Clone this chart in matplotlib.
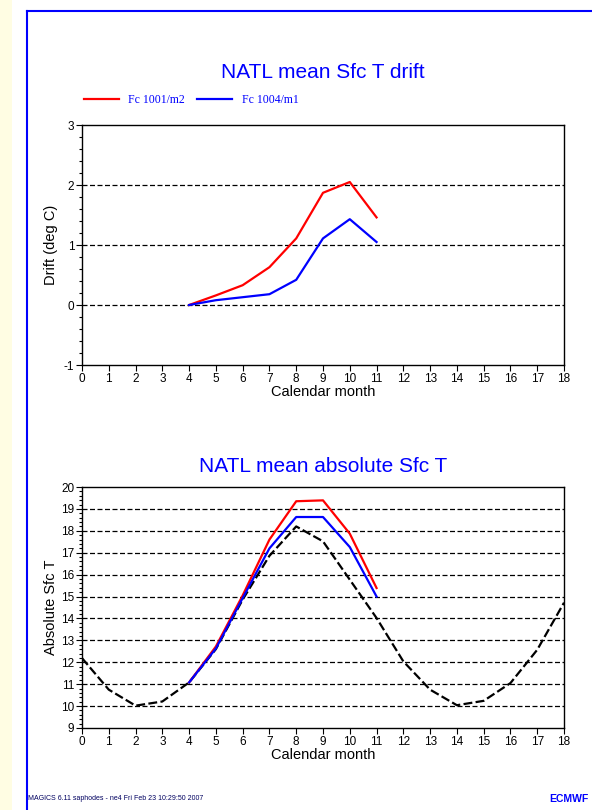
import matplotlib
matplotlib.use('Agg')
import matplotlib.pyplot as plt
from matplotlib.ticker import MultipleLocator
from matplotlib.lines import Line2D
from matplotlib.patches import Rectangle

plt.rcParams['font.family'] = ['Liberation Sans', 'DejaVu Sans']
plt.rcParams['axes.unicode_minus'] = False

# drift data (months 4..11)
drift_months = [4, 5, 6, 7, 8, 9, 10, 11]
drift_m2 = [0.0, 0.16, 0.33, 0.63, 1.11, 1.87, 2.05, 1.46]
drift_m1 = [0.0, 0.08, 0.13, 0.18, 0.42, 1.11, 1.43, 1.05]

# absolute SST
clim_months = list(range(0, 19))
clim = [12.19, 10.75, 10.02, 10.21, 11.08, 12.6, 14.86, 16.86, 18.2, 17.52,
        15.77, 14.02, 12.04, 10.75, 10.04, 10.24, 11.05, 12.57, 14.72]
abs_m2 = [11.08, 12.72, 15.05, 17.6, 19.35, 19.39, 17.87, 15.39]
abs_m1 = [11.08, 12.63, 14.93, 17.2, 18.63, 18.63, 17.26, 15.0]

legend_labels = ['Fc 1001/m2', 'Fc 1004/m1']

W, H = 592, 810
fig = plt.figure(figsize=(W / 100, H / 100), dpi=100)

# page decorations
fig.add_artist(Rectangle((0, 0), 12 / W, 1, transform=fig.transFigure,
                         facecolor='#fffde3', edgecolor='none'))
fig.add_artist(Line2D([26.5 / W, 26.5 / W], [0, 1 - 10.5 / H], transform=fig.transFigure,
                      color='blue', lw=1.5))
fig.add_artist(Line2D([26.5 / W, 1], [1 - 10.5 / H, 1 - 10.5 / H], transform=fig.transFigure,
                      color='blue', lw=1.5))

ax1 = fig.add_axes([82 / W, 1 - 365 / H, (564 - 82) / W, (365 - 125) / H])
ax2 = fig.add_axes([82 / W, 1 - 728 / H, (564 - 82) / W, (728 - 487) / H])


def style(ax, ylo, yhi):
    ax.set_xlim(0, 18)
    ax.set_ylim(ylo, yhi)
    ax.xaxis.set_major_locator(MultipleLocator(1))
    ax.yaxis.set_major_locator(MultipleLocator(1))
    ax.yaxis.set_minor_locator(MultipleLocator(0.2))
    ax.tick_params(which='major', direction='out', length=4, width=0.8, labelsize=8.5, pad=1.5)
    ax.tick_params(which='minor', direction='out', length=2, width=0.8)
    for v in range(int(ylo) + 1, int(yhi)):
        ax.axhline(v, color='black', lw=0.9, ls=(0, (4, 2)), zorder=1)
    ax.set_xlabel('Calendar month', fontsize=10.5, labelpad=0)
    for s in ax.spines.values():
        s.set_linewidth(1.0)


style(ax1, -1, 3)
l1, = ax1.plot(drift_months, drift_m2, color='red', lw=1.6, zorder=3)
l2, = ax1.plot(drift_months, drift_m1, color='blue', lw=1.6, zorder=3)
ax1.set_ylabel('Drift (deg C)', fontsize=10.5)
ax1.yaxis.set_label_coords(-0.05, 0.5)

style(ax2, 9, 20)
ax2.plot(clim_months, clim, color='black', lw=1.6, ls=(0, (4, 1.5)), zorder=2)
ax2.plot(drift_months, abs_m2, color='red', lw=1.6, zorder=3)
ax2.plot(drift_months, abs_m1, color='blue', lw=1.6, zorder=3)
ax2.set_ylabel('Absolute Sfc T', fontsize=10.5)
ax2.yaxis.set_label_coords(-0.05, 0.5)

fig.text(323 / W, 1 - 72 / H, 'NATL mean Sfc T drift', color='blue', fontsize=15,
         ha='center', va='center')
fig.text(323 / W, 1 - 466 / H, 'NATL mean absolute Sfc T', color='blue', fontsize=15,
         ha='center', va='center')

leg = fig.legend([l1, l2], legend_labels, loc='center left',
                 bbox_to_anchor=(73 / W, 1 - 100 / H), ncol=2, frameon=False,
                 handlelength=3.0, handletextpad=0.8, columnspacing=1.0,
                 prop={'family': 'Liberation Serif', 'size': 8.5})
for t in leg.get_texts():
    t.set_color('blue')

fig.text(28 / W, 1 - 799 / H, 'MAGICS 6.11 saphodes - ne4 Fri Feb 23 10:29:50 2007',
         fontsize=5, ha='left', va='center', color='#000060')
fig.text(588 / W, 1 - 799 / H, 'ECMWF', fontsize=7.5, fontweight='bold',
         ha='right', va='center', color='blue')

fig.savefig('out.png', dpi=100)
